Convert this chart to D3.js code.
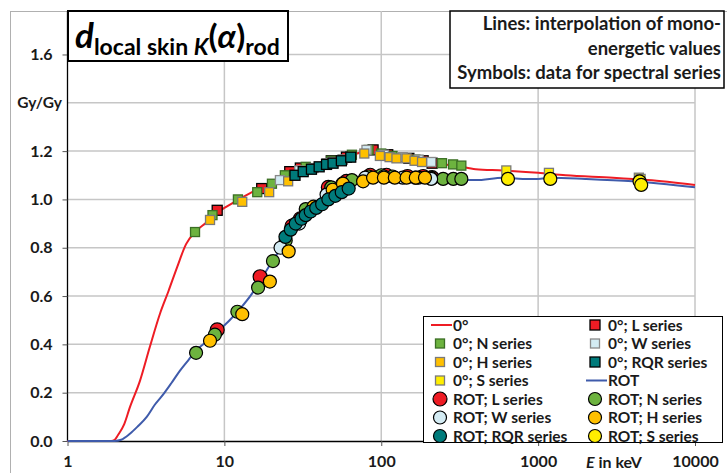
<!DOCTYPE html>
<html>
<head>
<meta charset="utf-8">
<script src="https://cdn.jsdelivr.net/npm/d3@7"></script>
<style>
  body { margin: 0; background: #fff; }
  svg { display: block; font-family: Lato, "Open Sans", sans-serif; font-weight: bold; }
</style>
</head>
<body>
<div id="chart"></div>
<script>
// interpolated mono-energetic curves (E in keV, value in Gy/Gy)
const line0E = [1, 1.5, 1.9, 2.0, 2.1, 2.3, 2.5, 2.9, 3.35, 3.9, 4.4, 5, 5.7, 6.5, 7.7, 9, 10, 12, 15, 20, 25, 30, 40, 50, 60, 70, 80, 90, 100, 120, 150, 200, 300, 400, 600, 1000, 1500, 3000, 5000, 10000];
const line0V = [0, 0, 0, 0.005, 0.025, 0.07, 0.14, 0.25, 0.39, 0.53, 0.62, 0.72, 0.815, 0.865, 0.905, 0.945, 0.965, 0.995, 1.03, 1.065, 1.095, 1.12, 1.145, 1.165, 1.18, 1.19, 1.2, 1.2, 1.19, 1.175, 1.165, 1.15, 1.14, 1.125, 1.12, 1.11, 1.1, 1.09, 1.08, 1.06];
const lineRotE = [1, 1.5, 2, 2.2, 2.5, 2.8, 3.2, 3.6, 4.1, 4.6, 5.2, 5.9, 6.6, 7.5, 8.5, 9.5, 10.8, 12.5, 15, 17, 20, 23, 26, 30, 35, 40, 50, 60, 70, 85, 100, 150, 200, 300, 400, 600, 800, 1000, 1200, 2000, 4000, 10000];
const lineRotV = [0, 0, 0, 0.005, 0.03, 0.06, 0.1, 0.15, 0.195, 0.24, 0.29, 0.335, 0.375, 0.405, 0.43, 0.465, 0.5, 0.545, 0.61, 0.665, 0.74, 0.8, 0.86, 0.915, 0.965, 1.0, 1.045, 1.07, 1.08, 1.09, 1.095, 1.09, 1.085, 1.08, 1.08, 1.09, 1.085, 1.085, 1.09, 1.085, 1.075, 1.05];

// spectral series, [E, value]
const sq0L = [[9.0, 0.955], [17.3, 1.045], [26.1, 1.115], [30.5, 1.13], [48, 1.16], [60, 1.175], [88.7, 1.205], [110, 1.185], [150, 1.17], [185, 1.16], [211, 1.15]];
const sq0N = [[6.5, 0.865], [8.4, 0.935], [12.2, 1.0], [16.2, 1.03], [20.1, 1.065], [24.3, 1.1], [33, 1.135], [48, 1.16], [65, 1.185], [83, 1.205], [100, 1.19], [118, 1.18], [165, 1.165], [244, 1.15], [287, 1.145], [324, 1.14]];
const sq0W = [[22.6, 1.08], [30, 1.12], [44.8, 1.15], [56.5, 1.165], [80.5, 1.205], [104, 1.185], [137, 1.175], [173, 1.165], [208, 1.155]];
const sq0H = [[8.1, 0.915], [13, 0.99], [19.3, 1.03], [25.5, 1.075], [37, 1.13], [49, 1.155], [57, 1.165], [78, 1.19], [98, 1.18], [113, 1.175], [125, 1.17], [145, 1.17], [163, 1.16], [182, 1.155]];
const sq0RQR = [[28.2, 1.1], [31.8, 1.115], [35.9, 1.125], [40.2, 1.135], [44.8, 1.145], [49.3, 1.15], [55.7, 1.16], [63.9, 1.175]];
const sq0S = [[627, 1.12], [1172, 1.11], [4385, 1.09], [4500, 1.085]];
const ciRotL = [[9.0, 0.46], [16.9, 0.68], [27, 0.89], [30.5, 0.92], [46, 1.05], [60, 1.075], [85, 1.1], [108, 1.1], [147, 1.095], [185, 1.095], [211, 1.09]];
const ciRotN = [[6.6, 0.365], [8.7, 0.44], [12.1, 0.535], [16.4, 0.635], [20.4, 0.745], [24.6, 0.83], [33, 0.96], [48, 1.05], [65, 1.08], [83, 1.095], [100, 1.1], [118, 1.095], [165, 1.09], [207, 1.09], [248, 1.085], [288, 1.085], [324, 1.085]];
const ciRotW = [[22.8, 0.8], [30, 0.9], [44.8, 1.02], [56.5, 1.065], [79, 1.09], [104, 1.095], [137, 1.09], [173, 1.09], [208, 1.085]];
const ciRotH = [[8.1, 0.415], [13, 0.525], [19.5, 0.66], [25.7, 0.785], [37, 0.97], [49, 1.04], [57, 1.065], [76.6, 1.075], [88.7, 1.09], [104, 1.09], [122, 1.09], [145, 1.09], [166, 1.09], [190, 1.09]];
const ciRotRQR = [[24.5, 0.845], [26.5, 0.875], [28.5, 0.9], [31, 0.92], [33, 0.935], [35.5, 0.95], [38.5, 0.965], [42, 0.98], [46, 1.0], [51, 1.015], [56, 1.03], [62, 1.045]];
const ciRotS = [[642, 1.085], [1196, 1.085], [4430, 1.075], [4540, 1.06]];

// axis ticks
const xTicks = [1, 10, 100, 1000, 10000];
const yTicks = [0, 0.2, 0.4, 0.6, 0.8, 1.0, 1.2, 1.6];
const yGrid = [0.2, 0.4, 0.6, 0.8, 1.0, 1.2, 1.4, 1.6];

// graph constants
const w = 727;
const h = 473;
const plotLeft = 67.5;
const plotRight = 695;
const plotTop = 11;
const plotBottom = 441;

const svg = d3.select('#chart')
    .append('svg')
    .attr('width', w)
    .attr('height', h);

// chart area border
svg.append('rect')
    .attr('x', 10.5).attr('y', 11.5)
    .attr('width', w).attr('height', h)
    .attr('fill', 'none')
    .attr('stroke', '#b0b0b0');

const xScale = d3.scaleLog().domain([1, 10000]).range([plotLeft, plotRight]);
const yScale = d3.scaleLinear().domain([0, 1.78]).range([plotBottom, plotTop]);

// gridlines
svg.append('g').selectAll('line')
    .data(yGrid)
    .join('line')
    .attr('x1', plotLeft).attr('x2', plotRight)
    .attr('y1', d => yScale(d)).attr('y2', d => yScale(d))
    .attr('stroke', '#c6c6c6').attr('stroke-width', 1.5);
svg.append('g').selectAll('line')
    .data(xTicks.slice(1))
    .join('line')
    .attr('x1', d => xScale(d)).attr('x2', d => xScale(d))
    .attr('y1', plotTop).attr('y2', plotBottom)
    .attr('stroke', '#c6c6c6').attr('stroke-width', 1.5);

// axes
const xAxis = d3.axisBottom(xScale).tickValues(xTicks).tickFormat(d3.format('d')).tickSize(5).tickSizeOuter(0);
const yAxis = d3.axisLeft(yScale).tickValues(yTicks).tickFormat(d3.format('.1f')).tickSize(5).tickSizeOuter(0);
const gx = svg.append('g')
    .attr('transform', `translate(0, ${plotBottom})`)
    .call(xAxis);
const gy = svg.append('g')
    .attr('transform', `translate(${plotLeft}, 0)`)
    .call(yAxis);
[gx, gy].forEach(g => {
    g.select('.domain').attr('stroke', '#000').attr('stroke-width', 1.3);
    g.selectAll('.tick line').attr('stroke', '#555');
    g.selectAll('text')
        .attr('font-family', 'Lato, sans-serif')
        .attr('font-weight', 'bold')
        .attr('font-size', 16)
        .attr('fill', '#1a1a1a');
});
gx.selectAll('text').attr('dy', '1.1em');
gy.selectAll('text').attr('x', -15);
gy.select('.domain').attr('d', `M0,${plotTop}V${plotBottom}`);

svg.append('text')
    .attr('x', 62).attr('y', yScale(1.4) + 5)
    .attr('text-anchor', 'end')
    .attr('font-size', 15.5)
    .attr('fill', '#1a1a1a')
    .text('Gy/Gy');
const xl = svg.append('text')
    .attr('x', 614).attr('y', 468)
    .attr('text-anchor', 'middle')
    .attr('font-size', 16)
    .attr('fill', '#1a1a1a');
xl.append('tspan').attr('font-style', 'italic').text('E');
xl.append('tspan').text(' in keV');

// series styles
const series = [
    { name: '0°', type: 'line', e: line0E, v: line0V, color: '#ee1c24' },
    { name: '0°; L series', type: 'sq', data: sq0L, fill: '#ee1c24', stroke: '#000', size: 10 },
    { name: '0°; N series', type: 'sq', data: sq0N, fill: '#6db33f', stroke: '#3b6e24', size: 9 },
    { name: '0°; W series', type: 'sq', data: sq0W, fill: '#d3ebf3', stroke: '#8a8a8a', size: 9 },
    { name: '0°; H series', type: 'sq', data: sq0H, fill: '#ffc000', stroke: '#7a7a7a', size: 9 },
    { name: '0°; RQR series', type: 'sq', data: sq0RQR, fill: '#007b7b', stroke: '#000', size: 10 },
    { name: '0°; S series', type: 'sq', data: sq0S, fill: '#ffee00', stroke: '#7a7a7a', size: 9 },
    { name: 'ROT', type: 'line', e: lineRotE, v: lineRotV, color: '#3f5bab' },
    { name: 'ROT; L series', type: 'ci', data: ciRotL, fill: '#ee1c24', r: 7 },
    { name: 'ROT; N series', type: 'ci', data: ciRotN, fill: '#6db33f', r: 6.5 },
    { name: 'ROT; W series', type: 'ci', data: ciRotW, fill: '#d3ebf3', r: 6.5 },
    { name: 'ROT; H series', type: 'ci', data: ciRotH, fill: '#ffc000', r: 6.5 },
    { name: 'ROT; RQR series', type: 'ci', data: ciRotRQR, fill: '#007b7b', r: 6.5 },
    { name: 'ROT; S series', type: 'ci', data: ciRotS, fill: '#ffee00', r: 6.5 }
];

const line = d3.line()
    .x(d => xScale(d[0]))
    .y(d => yScale(d[1]))
    .curve(d3.curveMonotoneX);

function drawMarker(g, s, cx, cy) {
    if (s.type === 'sq') {
        g.append('rect')
            .attr('x', cx - s.size / 2).attr('y', cy - s.size / 2)
            .attr('width', s.size).attr('height', s.size)
            .attr('fill', s.fill).attr('stroke', s.stroke).attr('stroke-width', 1.3);
    } else {
        g.append('circle')
            .attr('cx', cx).attr('cy', cy).attr('r', s.r)
            .attr('fill', s.fill).attr('stroke', '#000').attr('stroke-width', 1.2);
    }
}

// draw the series
series.forEach(s => {
    const g = svg.append('g');
    if (s.type === 'line') {
        g.append('path')
            .datum(s.e.map((e, i) => [e, s.v[i]]))
            .attr('d', line)
            .attr('fill', 'none')
            .attr('stroke', s.color)
            .attr('stroke-width', 2);
    } else {
        s.data.forEach(d => drawMarker(g, s, xScale(d[0]), yScale(d[1])));
    }
});

// title box
svg.append('rect')
    .attr('x', 68).attr('y', 11)
    .attr('width', 220).attr('height', 50)
    .attr('fill', '#fff').attr('stroke', '#000').attr('stroke-width', 2);
const title = svg.append('text')
    .attr('x', 75).attr('y', 48)
    .attr('fill', '#000');
title.append('tspan').attr('font-size', 35).attr('font-style', 'italic').text('d');
title.append('tspan').attr('font-size', 23).attr('dy', 7).text('local skin ');
title.append('tspan').attr('font-size', 23).attr('font-style', 'italic').text('K');
title.append('tspan').attr('font-size', 33).attr('dy', -7).text('(');
title.append('tspan').attr('font-size', 33).attr('font-style', 'italic').text('α');
title.append('tspan').attr('font-size', 33).text(')');
title.append('tspan').attr('font-size', 23).attr('dy', 7).text('rod');

// note box
svg.append('rect')
    .attr('x', 450).attr('y', 11)
    .attr('width', 274).attr('height', 77)
    .attr('fill', '#fff').attr('stroke', '#000').attr('stroke-width', 1.5);
const notes = ['Lines: interpolation of mono-', 'energetic values', 'Symbols: data for spectral series'];
svg.append('g').selectAll('text')
    .data(notes)
    .join('text')
    .attr('x', 721)
    .attr('y', (d, i) => 30 + i * 24.5)
    .attr('text-anchor', 'end')
    .attr('font-size', 18.5)
    .attr('fill', '#1a1a1a')
    .text(d => d);

// legend
const lg = svg.append('g');
lg.append('rect')
    .attr('x', 423.5).attr('y', 316.5)
    .attr('width', 299).attr('height', 126)
    .attr('fill', '#fff').attr('stroke', '#000').attr('stroke-width', 1);
series.forEach((s, i) => {
    const col = i % 2;
    const row = Math.floor(i / 2);
    const cx = col === 0 ? 440 : 595;
    const cy = 325 + row * 18.5;
    if (s.type === 'line') {
        lg.append('line')
            .attr('x1', cx - 9).attr('x2', cx + 12)
            .attr('y1', cy).attr('y2', cy)
            .attr('stroke', s.color).attr('stroke-width', 2);
    } else {
        drawMarker(lg, s, cx, cy);
    }
    lg.append('text')
        .attr('x', cx + 13).attr('y', cy + 5.5)
        .attr('font-size', 15.5)
        .attr('fill', '#1a1a1a')
        .text(s.name);
});
</script>
</body>
</html>
